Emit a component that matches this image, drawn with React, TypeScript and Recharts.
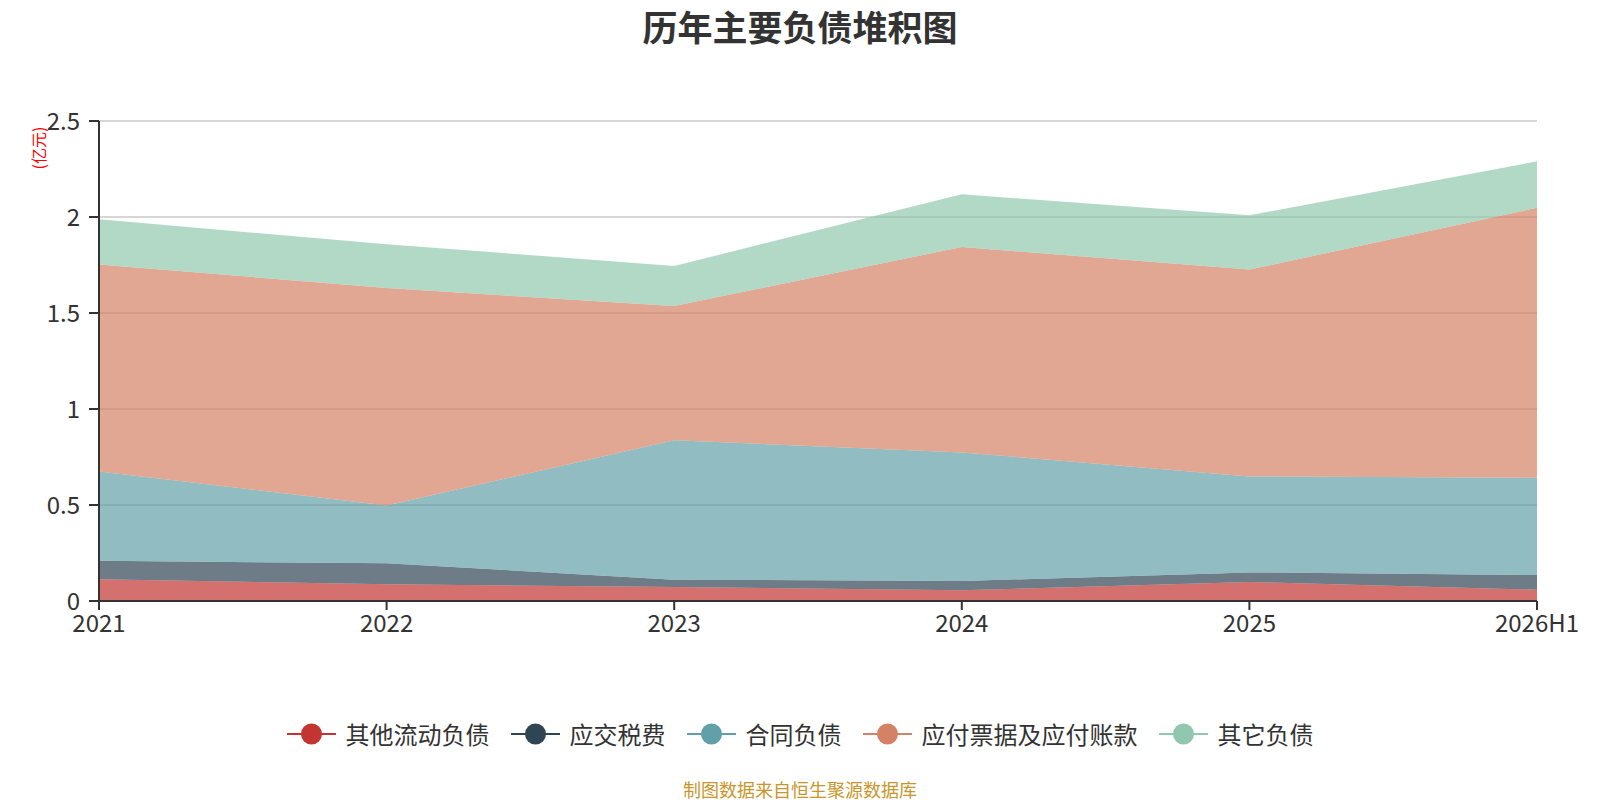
import { AreaChart, Area, XAxis, YAxis, CartesianGrid, Label } from "recharts";

const years = ["2021", "2022", "2023", "2024", "2025", "2026H1"];
const otherCurrent = [0.113, 0.087, 0.073, 0.056, 0.099, 0.059];
const taxPayable = [0.097, 0.109, 0.038, 0.048, 0.05, 0.076];
const contractLiab = [0.465, 0.301, 0.726, 0.67, 0.5, 0.507];
const payables = [1.078, 1.133, 0.699, 1.07, 1.077, 1.406];
const otherLiab = [0.235, 0.228, 0.209, 0.274, 0.283, 0.242];
const yTicks = [0, 0.5, 1, 1.5, 2, 2.5];

const series = [
  { key: "otherCurrent", name: "其他流动负债", color: "#c23531", values: otherCurrent },
  { key: "taxPayable", name: "应交税费", color: "#2f4554", values: taxPayable },
  { key: "contractLiab", name: "合同负债", color: "#61a0a8", values: contractLiab },
  { key: "payables", name: "应付票据及应付账款", color: "#d48265", values: payables },
  { key: "otherLiab", name: "其它负债", color: "#91c7ae", values: otherLiab },
];

const data = years.map((year, i) => {
  const row: Record<string, string | number> = { year };
  series.forEach((s) => (row[s.key] = s.values[i]));
  return row;
});

const font = "'Noto Sans CJK SC', 'Microsoft YaHei', sans-serif";

export default function App() {
  return (
    <div style={{ position: "absolute", left: 0, top: 0, width: 1600, height: 800, fontFamily: font, background: "#fff" }}>
      <div
        style={{
          position: "absolute",
          top: 4,
          left: 0,
          width: 1600,
          textAlign: "center",
          fontSize: 35,
          fontWeight: "bold",
          color: "#333",
          lineHeight: "44px",
        }}
      >
        历年主要负债堆积图
      </div>
      <AreaChart width={1600} height={800} data={data} margin={{ top: 121, right: 63, bottom: 159, left: 0 }}>
        <CartesianGrid vertical={false} stroke="#c8c8c8" strokeWidth={1.5} />
        <XAxis
          dataKey="year"
          height={40}
          axisLine={{ stroke: "#333", strokeWidth: 2 }}
          tickLine={{ stroke: "#333", strokeWidth: 2 }}
          tickSize={9}
          tickMargin={5}
          tick={{ fill: "#333", fontSize: 24, fontFamily: font }}
          interval={0}
        />
        <YAxis
          width={99}
          domain={[0, 2.5]}
          ticks={yTicks}
          axisLine={{ stroke: "#333", strokeWidth: 2 }}
          tickLine={{ stroke: "#333", strokeWidth: 2 }}
          tickSize={10}
          tickMargin={9}
          tick={{ fill: "#333", fontSize: 24, fontFamily: font }}
        >
          <Label
            content={() => (
              <text
                x={38}
                y={148}
                transform="rotate(-90 38 148)"
                textAnchor="middle"
                dominantBaseline="central"
                fill="#ff0000"
                fontSize={16}
                fontFamily={font}
              >
                (亿元)
              </text>
            )}
          />
        </YAxis>
        {series.map((s) => (
          <Area
            key={s.key}
            type="linear"
            dataKey={s.key}
            name={s.name}
            stackId="1"
            stroke="none"
            fill={s.color}
            fillOpacity={0.7}
            isAnimationActive={false}
          />
        ))}
      </AreaChart>
      <div
        style={{
          position: "absolute",
          top: 720,
          left: 0,
          width: 1600,
          display: "flex",
          justifyContent: "center",
          gap: 21,
          fontSize: 24,
          color: "#333",
          lineHeight: "28px",
        }}
      >
        {series.map((s) => (
          <div key={s.key} style={{ display: "flex", alignItems: "center", gap: 10 }}>
            <svg width={49} height={24}>
              <line x1={0} y1={12} x2={49} y2={12} stroke={s.color} strokeWidth={2} />
              <circle cx={24.5} cy={12} r={10.5} fill={s.color} />
            </svg>
            <span>{s.name}</span>
          </div>
        ))}
      </div>
      <div
        style={{
          position: "absolute",
          top: 778,
          left: 0,
          width: 1600,
          textAlign: "center",
          fontSize: 18,
          color: "#c8962a",
          lineHeight: "22px",
        }}
      >
        制图数据来自恒生聚源数据库
      </div>
    </div>
  );
}
